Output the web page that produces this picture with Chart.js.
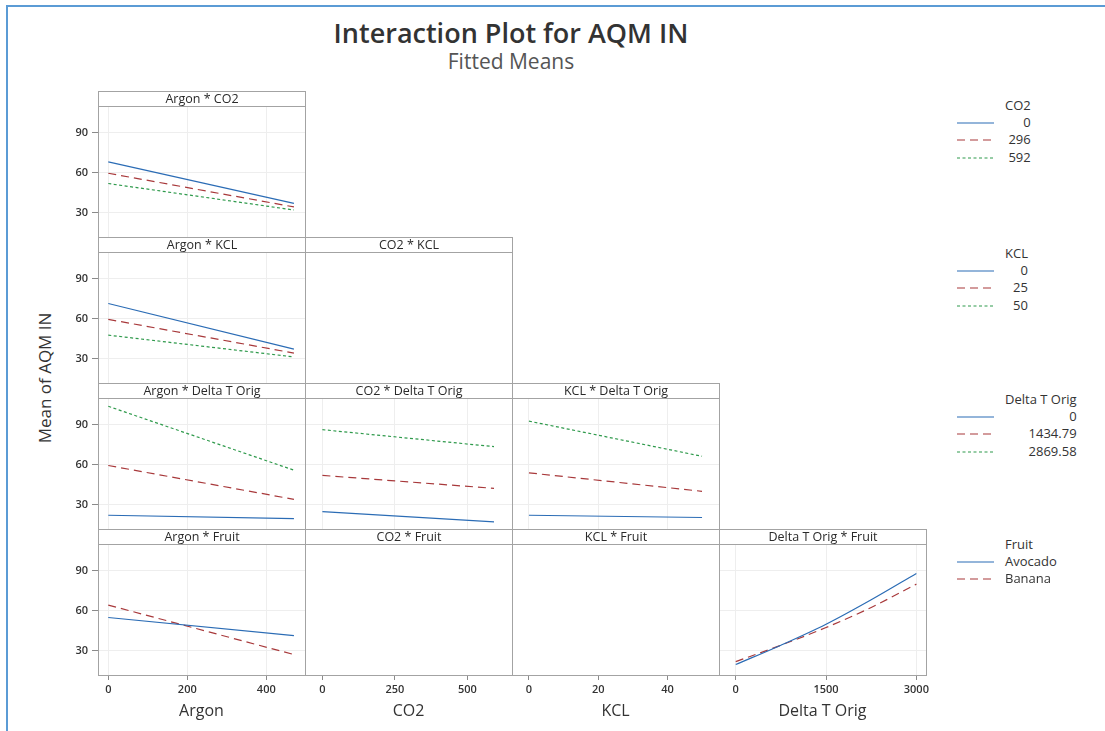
<!DOCTYPE html>
<html>
<head>
<meta charset="utf-8">
<script src="https://cdn.jsdelivr.net/npm/chart.js@4.4.0/dist/chart.umd.min.js"></script>
<style>
  body { margin: 0; background: #fff; font-family: "Open Sans", sans-serif; color: #333; }
  #page { position: relative; width: 1105px; height: 731px; overflow: hidden; background: #fff; }
  #page canvas { position: absolute; }
  .edge { position: absolute; left: 6px; top: 5px; width: 1120px; height: 740px; border-top: 2px solid #5b9bd5; border-left: 2px solid #5b9bd5; }
  .frame { position: absolute; box-sizing: border-box; border: 1px solid #a3a3a3; pointer-events: none; }
  .hdr { position: absolute; box-sizing: border-box; border: 1px solid #a3a3a3; text-align: center; font-size: 12.5px; line-height: 13px; color: #2a2a2a; background: #fff; }
  .title { position: absolute; left: 0; width: 1022px; text-align: center; }
  .lg { position: absolute; font-size: 13px; color: #333; }
  .lg div { height: 17.7px; line-height: 17.7px; white-space: nowrap; }
  .lg .t { height: 16.5px; line-height: 16.5px; }
</style>
</head>
<body>
<div id="page">
  <div class="edge"></div>
  <div class="title" style="top:14px;font-size:27px;font-weight:600;color:#333;">Interaction Plot for AQM IN</div>
  <div class="title" style="top:47px;font-size:21px;color:#555;">Fitted Means</div>
  <div style="position:absolute;left:44px;top:378px;transform:translate(-50%,-50%) rotate(-90deg);font-size:17px;white-space:nowrap;color:#333;">Mean of AQM IN</div>
</div>
<script>
// x positions of the fitted means
const argonX = [0, 470];
const co2X = [0, 592];
const kclX = [0, 50];
const deltaX = [0, 750, 1500, 2250, 3000];

// tick labels
const argonTicks = [0, 200, 400];
const co2Ticks = [0, 250, 500];
const kclTicks = [0, 20, 40];
const deltaTicks = [0, 1500, 3000];
const meanTicks = [30, 60, 90];

// legend levels
const co2Levels = ['0', '296', '592'];
const kclLevels = ['0', '25', '50'];
const deltaLevels = ['0', '1434.79', '2869.58'];
const fruitLevels = ['Avocado', 'Banana'];

// fitted means, one array per level of the trace factor
const argonCo2 = [[68.2, 37.2], [59.7, 34.5], [52.0, 32.2]];
const argonKcl = [[71.5, 37.4], [59.6, 34.4], [47.8, 31.5]];
const argonDelta = [[22.3, 19.8], [59.5, 34.2], [103.8, 56.0]];
const co2Delta = [[25.0, 17.4], [52.1, 42.4], [86.3, 73.6]];
const kclDelta = [[22.3, 20.6], [54.0, 40.2], [92.7, 66.4]];
const argonFruit = [[55.0, 41.5], [64.3, 27.3]];
const deltaFruit = [[19.8, 34.3, 50.0, 68.3, 88.0], [22.0, 34.3, 47.5, 62.5, 80.0]];

// layout
const colLeft = [98, 305, 512, 719];
const colW = 207;
const rowTop = [91, 237, 383, 529];
const headerH = 15;
const plotH = 131;
const yMin = 12, yMax = 110;

const columns = [
    { name: 'Argon', ticks: argonTicks, min: -26, max: 498 },
    { name: 'CO2', ticks: co2Ticks, min: -60, max: 654 },
    { name: 'KCL', ticks: kclTicks, min: -4.9, max: 54.9 },
    { name: 'Delta T Orig', ticks: deltaTicks, min: -278, max: 3160 }
];

const lineStyles = [
    { borderColor: '#2b6cb5', borderDash: [] },
    { borderColor: '#a8393b', borderDash: [8, 5] },
    { borderColor: '#2f9a4c', borderDash: [3, 2.5] }
];

const panels = [
    { r: 0, c: 0, title: 'Argon * CO2', xs: argonX, series: argonCo2 },
    { r: 1, c: 0, title: 'Argon * KCL', xs: argonX, series: argonKcl },
    { r: 1, c: 1, title: 'CO2 * KCL' },
    { r: 2, c: 0, title: 'Argon * Delta T Orig', xs: argonX, series: argonDelta },
    { r: 2, c: 1, title: 'CO2 * Delta T Orig', xs: co2X, series: co2Delta },
    { r: 2, c: 2, title: 'KCL * Delta T Orig', xs: kclX, series: kclDelta },
    { r: 3, c: 0, title: 'Argon * Fruit', xs: argonX, series: argonFruit },
    { r: 3, c: 1, title: 'CO2 * Fruit' },
    { r: 3, c: 2, title: 'KCL * Fruit' },
    { r: 3, c: 3, title: 'Delta T Orig * Fruit', xs: deltaX, series: deltaFruit, smooth: true }
];

Chart.defaults.font.family = '"Open Sans", sans-serif';
const page = document.getElementById('page');

function addDiv(cls, css, html) {
    const d = document.createElement('div');
    d.className = cls;
    Object.assign(d.style, css);
    if (html !== undefined) d.innerHTML = html;
    page.appendChild(d);
    return d;
}

function makePanel(p) {
    const col = columns[p.c];
    const left = colLeft[p.c];
    const top = rowTop[p.r] + headerH;
    const hasData = !!p.series;
    const bottomRow = p.r === 3;
    const firstCol = p.c === 0;

    if (hasData || bottomRow) {
        const extraL = firstCol ? 60 : 0;
        const extraB = bottomRow ? 731 - (top + plotH) : 0;
        const extraR = p.c === 3 ? 25 : 0;

        const canvas = document.createElement('canvas');
        canvas.width = colW + extraL + extraR;
        canvas.height = plotH + extraB;
        canvas.style.left = (left - extraL) + 'px';
        canvas.style.top = top + 'px';
        page.appendChild(canvas);

        const datasets = (p.series || []).map((vals, i) => ({
            data: vals.map((v, j) => ({ x: p.xs[j], y: v })),
            borderColor: lineStyles[i].borderColor,
            borderDash: lineStyles[i].borderDash,
            borderWidth: 1.2,
            pointRadius: 0,
            fill: false,
            cubicInterpolationMode: p.smooth ? 'monotone' : 'default',
            tension: 0
        }));

        new Chart(canvas, {
            type: 'line',
            data: { datasets },
            options: {
                responsive: false,
                animation: false,
                events: [],
                layout: { padding: { left: 0, top: 0, bottom: 0, right: extraR } },
                plugins: { legend: { display: false }, tooltip: { enabled: false } },
                scales: {
                    x: {
                        type: 'linear',
                        min: col.min,
                        max: col.max,
                        border: { display: false },
                        grid: {
                            color: '#eeeeee',
                            drawOnChartArea: hasData,
                            drawTicks: bottomRow,
                            tickLength: 5,
                            tickColor: '#8a8a8a'
                        },
                        ticks: {
                            display: bottomRow,
                            padding: 3,
                            color: '#333',
                            font: { size: 11, weight: '600' },
                            maxRotation: 0,
                            autoSkip: false,
                            callback: v => String(v)
                        },
                        title: {
                            display: bottomRow,
                            text: col.name,
                            color: '#333',
                            font: { size: 16 },
                            padding: { top: 0, bottom: 10 }
                        },
                        afterBuildTicks: s => { s.ticks = col.ticks.map(v => ({ value: v })); },
                        afterFit: s => { s.height = extraB; s.paddingLeft = 0; s.paddingRight = 0; }
                    },
                    y: {
                        type: 'linear',
                        display: hasData || firstCol,
                        min: yMin,
                        max: yMax,
                        border: { display: false },
                        grid: {
                            color: '#eeeeee',
                            drawOnChartArea: hasData,
                            drawTicks: firstCol,
                            tickLength: 6,
                            tickColor: '#8a8a8a'
                        },
                        ticks: {
                            display: firstCol,
                            padding: 4,
                            color: '#333',
                            font: { size: 11, weight: '600' },
                            callback: v => String(v)
                        },
                        afterBuildTicks: s => { s.ticks = meanTicks.map(v => ({ value: v })); },
                        afterFit: s => { s.width = extraL; s.paddingTop = 0; s.paddingBottom = 0; }
                    }
                }
            }
        });
    }

    addDiv('hdr', {
        left: left + 'px', top: rowTop[p.r] + 'px',
        width: (colW + 1) + 'px', height: (headerH + 1) + 'px'
    }, p.title);
    addDiv('frame', {
        left: left + 'px', top: top + 'px',
        width: (colW + 1) + 'px', height: (plotH + 1) + 'px'
    });
}

panels.forEach(makePanel);

// legends
function sample(i) {
    const s = lineStyles[i];
    return '<svg width="38" height="4" style="position:absolute;left:-48px;top:7px">' +
        '<line x1="0" y1="2" x2="37" y2="2" stroke="' + s.borderColor + '" stroke-width="1.2"' +
        (s.borderDash.length ? ' stroke-dasharray="' + s.borderDash.join(',') + '"' : '') + '/></svg>';
}

function makeLegend(title, levels, top, align) {
    const box = addDiv('lg', { left: '1005px', top: top + 'px', textAlign: align });
    let html = '<div class="t">' + title + '</div>';
    levels.forEach((lv, i) => {
        html += '<div style="position:relative">' + sample(i) + lv + '</div>';
    });
    box.innerHTML = html;
}

makeLegend('CO2', co2Levels, 97, 'right');
makeLegend('KCL', kclLevels, 245, 'right');
makeLegend('Delta T Orig', deltaLevels, 391, 'right');
makeLegend('Fruit', fruitLevels, 536, 'left');
</script>
</body>
</html>
